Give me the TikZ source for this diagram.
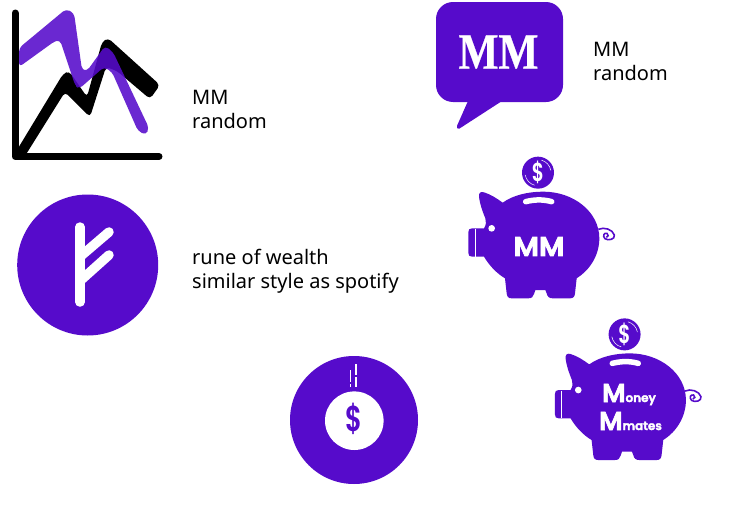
\documentclass[tikz,border=0pt]{standalone}
\usepackage{fontspec}
\setmainfont{Noto Sans}
\newfontfamily\serifbold[FakeBold=0.6]{Liberation Serif Bold}
\newfontfamily\bubble[FakeBold=2.5]{Poppins SemiBold}
\newfontfamily\coinfont{Poppins SemiBold}
\definecolor{mmpurple}{HTML}{560BCB}
\newcommand{\pigdrawing}{%
    \fill[mmpurple] (36,235) -- (72,235) .. controls (78,225) and (80,215) .. (76,205)
      .. controls (68,185) and (60,165) .. (57,140) .. controls (56,128) and (62,124) .. (72,127)
      .. controls (92,133) and (110,145) .. (128,158) .. controls (160,135) and (205,125) .. (250,125)
      .. controls (340,125) and (418,185) .. (418,265) .. controls (418,315) and (390,360) .. (350,385)
      -- (345,430) .. controls (344,440) and (340,445) .. (330,445) -- (278,445)
      .. controls (268,445) and (262,440) .. (260,430) -- (256,420) -- (226,420) -- (222,432)
      .. controls (220,440) and (215,445) .. (205,445) -- (155,445) .. controls (145,445) and (141,440) .. (140,430)
      -- (135,385) .. controls (110,370) and (88,347) .. (72,320) -- (36,320)
      .. controls (28,320) and (25,316) .. (25,308) -- (25,247) .. controls (25,239) and (28,235) .. (36,235) -- cycle;
    \draw[white,line width=1pt] (45,237) -- (45,320);
    \fill[white] (95,235) circle[radius=10];
    \draw[hole,line width=5.5pt] (197,155) .. controls (225,148) and (250,148) .. (275,155);
    \draw[mmpurple,line width=1.6pt] (415,238) .. controls (432,230) and (458,238) .. (463,255)
      .. controls (466,268) and (445,273) .. (435,266) .. controls (427,258) and (432,247) .. (441,250)
      .. controls (447,253) and (445,262) .. (439,262);
    \fill[mmpurple] (234,68) circle[radius=48];
    \draw[white,line width=0.5pt] (234,68) ++(-75:39) arc[start angle=-75,end angle=-10,radius=39];
    \draw[white,line width=0.5pt] (234,68) ++(105:39) arc[start angle=105,end angle=170,radius=39];
    \node[dollar,text=white,font=\coinfont\fontsize{26}{26}\selectfont,xscale=0.72] at (234,68) {\$};
}
\tikzset{
  x=1pt,y=-1pt,
  note/.style={anchor=west,align=left,inner sep=0pt,text=black,font=\fontsize{20}{24}\selectfont},
  hole/.style={draw=white,line cap=round},
  dollar/.style={inner sep=0pt},
  bubbletext/.style={inner sep=0pt,text=white,font=\bubble},
}
\begin{document}
\begin{tikzpicture}
\useasboundingbox (0,0) rectangle (729,525);
\fill[white] (0,0) rectangle (729,525);

% chart
\draw[black,line width=7pt,line cap=round,line join=round] (15,13) -- (15,156.5) -- (159,156.5);
\fill[black,rounded corners=4pt] (17,150) -- (63,74) -- (69,71) -- (87,97) -- (102,42) -- (108,38) -- (160,85) -- (150,99) -- (117,71) -- (106,67) -- (90,117) -- (65,92) -- (25,156) -- (17,156) -- cycle;
\fill[mmpurple,opacity=0.88,rounded corners=4pt] (19,48) -- (66,9) -- (74,13) -- (82,70) -- (87,71) -- (105,46) -- (113,52) -- (149,128) -- (146,135) -- (138,131) -- (112,72) -- (104,67) -- (79,89) -- (75,85) -- (60,40) -- (55,41) -- (19,67) -- cycle;
\node[note] (chartnote) at (192,109) {MM\\random};

% speech bubble
\fill[mmpurple,rounded corners=17pt] (436,2) rectangle (563,102);
\fill[mmpurple,rounded corners=1.5pt] (468,101) -- (456.5,127) -- (458,129.5) -- (502,101) -- cycle;
\node[inner sep=0pt,text=white,font=\serifbold\fontsize{51}{51}\selectfont,xscale=0.83] (bubblemm) at (498.5,52) {MM};
\node[note] (bubblenote) at (593,61) {MM\\random};

% rune
\fill[mmpurple] (87.7,265) circle[radius=70.5];
\draw[hole,line width=9.5pt] (80,227) -- (80,302);
\draw[hole,line width=9.5pt] (80,256.8) -- (109,232);
\draw[hole,line width=9.5pt] (80,281) -- (109,255);
\node[note] (runenote) at (192,271.5) {rune of wealth\\similar style as spotify};

% pig with MM
\begin{scope}[shift={(460,150)},x=0.33333pt,y=-0.33333pt]
  \pigdrawing
\end{scope}
\node[bubbletext,font=\bubble\fontsize{27}{27}\selectfont,xscale=1.05] (pigmm) at (539,246.5) {MM};

% pig with Money Mates
\begin{scope}[shift={(546.6,311.7)},x=0.33333pt,y=-0.33333pt]
  \pigdrawing
\end{scope}
\node[bubbletext,anchor=base west] (money) at (602,402) {\fontsize{26}{26}\selectfont M\fontsize{12}{12}\selectfont oney};
\node[bubbletext,anchor=base west] (mates) at (599,430) {\fontsize{26}{26}\selectfont M\fontsize{12}{12}\selectfont mates};

% coin
\fill[mmpurple] (354,420) circle[radius=64];
\fill[white] (354.3,420.7) circle[radius=29.3];
\node[dollar,text=mmpurple,font=\coinfont\fontsize{36}{36}\selectfont,xscale=0.72] (coinsign) at (354,419) {\$};
\draw[white,line width=1.5pt] (350.7,370) -- (350.7,382) (350.7,384) -- (350.7,387);
\draw[white,line width=1.5pt] (356,364) -- (356,375) (356,377) -- (356,387);
\end{tikzpicture}
\end{document}
